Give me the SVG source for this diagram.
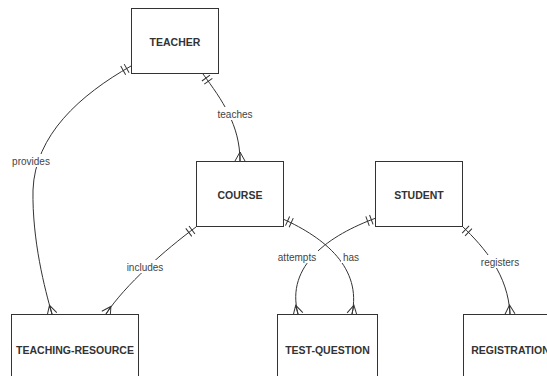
<svg xmlns="http://www.w3.org/2000/svg" width="547" height="376" viewBox="0 0 547 376">
<style>
.box{fill:#fff;stroke:#333;stroke-width:1}
.nl{font-family:"Liberation Sans",Arial,sans-serif;font-size:10.5px;font-weight:bold;fill:#333;text-anchor:middle}
.edge{fill:none;stroke:#333;stroke-width:1;marker-start:url(#one);marker-end:url(#many)}
.lbg{fill:#fff;stroke:none}
.el{font-family:"Liberation Sans",Arial,sans-serif;font-size:10px;fill:#444;text-anchor:middle}
</style>
<defs>
<marker id="one" markerUnits="userSpaceOnUse" markerWidth="24" markerHeight="16" viewBox="-12 -8 24 16" refX="0" refY="0" orient="auto" overflow="visible">
<path d="M5,-5 L5,5 M9,-5 L9,5" fill="none" stroke="#333" stroke-width="1"/>
</marker>
<marker id="many" markerUnits="userSpaceOnUse" markerWidth="24" markerHeight="16" viewBox="-12 -8 24 16" refX="0" refY="0" orient="auto" overflow="visible">
<path d="M0,-5 L-9,0 L0,5 M-9,0 L0,0" fill="none" stroke="#333" stroke-width="1"/>
</marker>
</defs>
<rect width="547" height="376" fill="#fff"/>
<g id="connectors">
<path class="edge" d="M203,74 C222,100 240,125 240,161"/>
<path class="edge" d="M131,66 C80,95 35,135 33,190 C32,240 45,290 52,314"/>
<path class="edge" d="M196,227 C165,250 125,285 106,314"/>
<path class="edge" d="M283,219 C325,238 362,268 352,314"/>
<path class="edge" d="M376,218 C330,235 285,265 298,314"/>
<path class="edge" d="M462,226 C485,248 508,275 510,314"/>
<rect class="lbg" x="217" y="107" width="36" height="13"/>
<text class="el" x="235" y="117.5">teaches</text>
<rect class="lbg" x="11" y="154" width="40" height="13"/>
<text class="el" x="31" y="164.5">provides</text>
<rect class="lbg" x="125" y="260" width="40" height="13"/>
<text class="el" x="145" y="270.5">includes</text>
<rect class="lbg" x="276" y="250" width="42" height="13"/>
<text class="el" x="297" y="260.5">attempts</text>
<rect class="lbg" x="341" y="250" width="20" height="13"/>
<text class="el" x="351" y="260.5">has</text>
<rect class="lbg" x="479" y="255" width="42" height="13"/>
<text class="el" x="500" y="265.5">registers</text>
</g>
<g id="teacher"><rect class="box" x="131.5" y="8.5" width="87" height="65"/><text class="nl" x="175" y="46">TEACHER</text></g>
<g id="course"><rect class="box" x="196.5" y="161.5" width="87" height="65"/><text class="nl" x="240" y="198.5">COURSE</text></g>
<g id="student"><rect class="box" x="375.5" y="161.5" width="87" height="65"/><text class="nl" x="419" y="198.5">STUDENT</text></g>
<g id="teaching-resource"><rect class="box" x="11.5" y="314.5" width="127" height="65"/><text class="nl" x="75" y="353.5">TEACHING-RESOURCE</text></g>
<g id="test-question"><rect class="box" x="277.5" y="314.5" width="100" height="65"/><text class="nl" x="327.5" y="353.5">TEST-QUESTION</text></g>
<g id="registration"><rect class="box" x="463.5" y="314.5" width="96" height="65"/><text class="nl" x="510.5" y="353.5">REGISTRATION</text></g>
</svg>
